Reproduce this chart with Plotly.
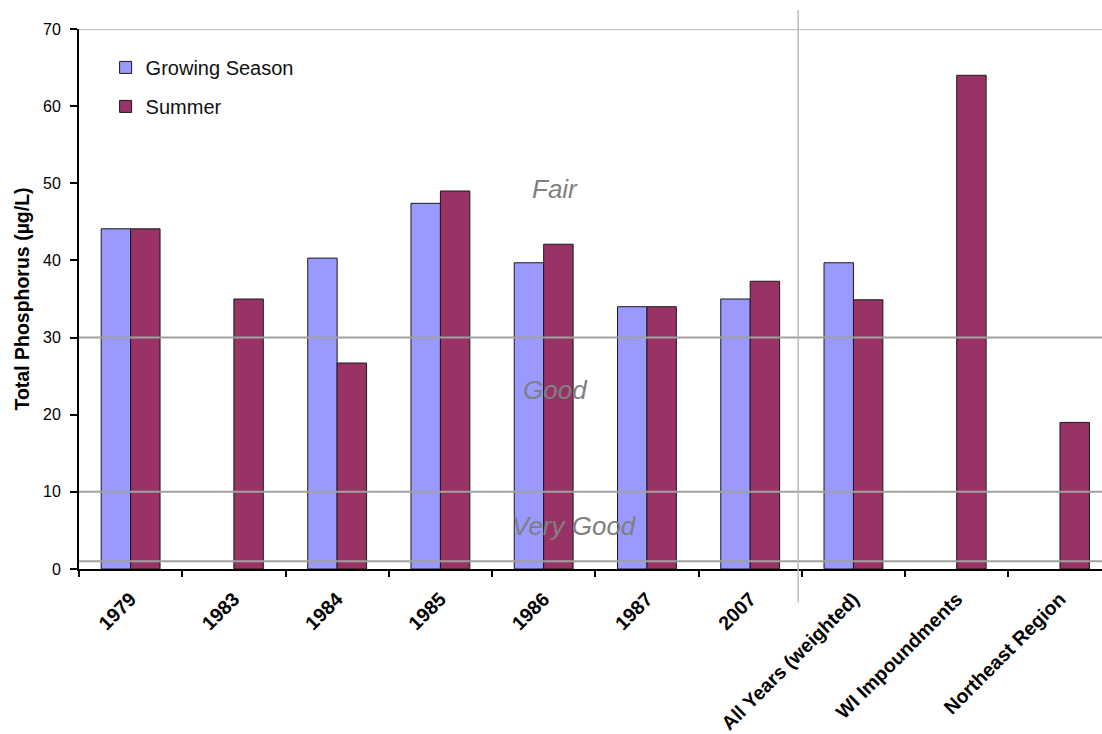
import plotly.graph_objects as go

# Total phosphorus by sampling period and comparison group
categories = ["1979", "1983", "1984", "1985", "1986", "1987", "2007",
              "All Years (weighted)", "WI Impoundments", "Northeast Region"]
growing_season = [44.1, None, 40.3, 47.4, 39.7, 34.0, 35.0, 39.7, None, None]
summer = [44.1, 35.0, 26.7, 49.0, 42.1, 34.0, 37.3, 34.9, 64.0, 19.0]

# Trophic-condition thresholds and their labels
threshold_lines = [1, 10, 30]
condition_labels = ["Fair", "Good", "Very Good"]
condition_pos = [(4.11, 49.2), (4.11, 23.2), (4.3, 5.6)]

FONT = "Liberation Sans, Arial, sans-serif"

fig = go.Figure()
fig.add_trace(go.Bar(
    x=categories, y=growing_season, name="Growing Season", legendgroup="gs",
    marker=dict(color="#9999FF", line=dict(color="#1a1a1a", width=1)),
))
fig.add_trace(go.Bar(
    x=categories, y=summer, name="Summer", legendgroup="su",
    marker=dict(color="#993366", line=dict(color="#1a1a1a", width=1)),
))

shapes = []
for v in threshold_lines:
    shapes.append(dict(type="line", xref="paper", yref="y", x0=0, x1=1, y0=v, y1=v,
                       line=dict(color="#a0a0a0", width=2), layer="above"))
# top border line
shapes.append(dict(type="line", xref="paper", yref="y", x0=0, x1=1, y0=70, y1=70,
                   line=dict(color="#c4c4c4", width=2.5), layer="above"))
# separator between individual years and comparison groups
shapes.append(dict(type="line", xref="paper", yref="paper", x0=0.703, x1=0.703,
                   y0=-0.062, y1=1.035, line=dict(color="#bbbbbb", width=1.5),
                   layer="above"))

annotations = []
for text, (ax, ay) in zip(condition_labels, condition_pos):
    annotations.append(dict(x=ax, y=ay, xref="x", yref="y", text=f"<i>{text}</i>",
                            showarrow=False,
                            font=dict(family=FONT, size=26, color="#808080")))

fig.update_layout(
    width=1102, height=734,
    margin=dict(l=79, r=0, t=29, b=165),
    paper_bgcolor="white", plot_bgcolor="white",
    barmode="group", bargap=0.43, bargroupgap=0,
    font=dict(family=FONT, color="black"),
    shapes=shapes, annotations=annotations,
    legend=dict(x=0.026, y=0.965, xanchor="left", yanchor="top",
                font=dict(family=FONT, size=20, color="#111111"),
                bgcolor="rgba(0,0,0,0)", tracegroupgap=10, itemwidth=30),
    xaxis=dict(
        range=[-0.5, 9.407], showgrid=False, showline=True, linecolor="black",
        linewidth=2, ticks="outside", tickson="boundaries", ticklen=6,
        tickcolor="black", tickwidth=1.5, tickangle=-45, ticklabelstandoff=9,
        tickfont=dict(family=FONT, size=19.5, color="black", weight="bold"),
        zeroline=False,
    ),
    yaxis=dict(
        range=[0, 70], dtick=10, showgrid=False, showline=True, linecolor="black",
        linewidth=2, ticks="outside", ticklen=7, tickcolor="black", tickwidth=1.5,
        ticklabelstandoff=6,
        tickfont=dict(family=FONT, size=16, color="black"),
        title=dict(text="Total Phosphorus (µg/L)", standoff=8,
                   font=dict(family=FONT, size=19.5, color="black", weight="bold")),
        zeroline=False,
    ),
)

fig.write_html("out.html")
